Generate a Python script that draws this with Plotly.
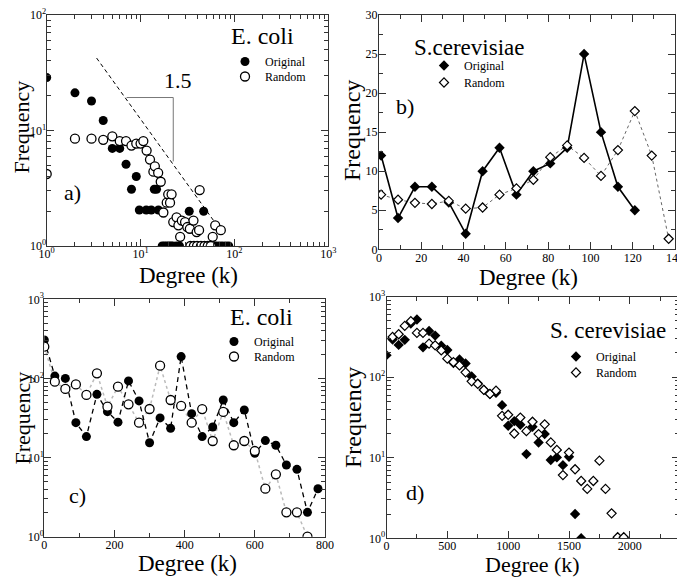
import plotly.graph_objects as go

# ---------------- data ----------------
# Panel a) E. coli, log-log degree distribution
a_orig_k = [1, 2, 3, 4, 5, 6, 7, 9, 8, 14, 14.8, 9.7, 11.5, 13, 15.5, 33, 47,
            17, 18, 19, 20, 21, 22, 24, 26, 35, 37, 39, 41, 44, 47, 50, 53, 57, 61, 65, 70, 75, 81, 87]
a_orig_f = [28.7, 21.2, 18.0, 12.2, 7.0, 7.0, 5.1, 4.0, 3.1, 3.1, 3.1, 2.05, 2.05, 2.05, 2.05, 2.0, 2.0,
            1, 1, 1, 1, 1, 1, 1, 1, 1, 1, 1, 1, 1, 1, 1, 1, 1, 1, 1, 1, 1, 1, 1]
a_rand_k = [1, 2, 3, 4, 5, 6, 7, 8, 9, 10, 10.7, 11.6, 12.6, 13.7, 14.2, 15.4, 16.4, 17.5, 19, 19.7,
            20.6, 21.4, 22.3, 24.2, 25.3, 26.4, 27.5, 29.8, 31.5, 33.5, 36.6, 39.6, 42, 42.6, 58.7, 62.4, 71.6,
            34, 37, 40, 44, 48, 52, 56]
a_rand_f = [4.2, 8.5, 8.5, 8.3, 8.9, 8.1, 8.1, 7.4, 7.7, 7.7, 8.1, 6.7, 5.6, 4.4, 4.9, 4.3, 3.6, 1.95, 2.37, 2.8,
            2.37, 2.8, 1.61, 1.77, 1.51, 1.2, 1.66, 1.61, 1.46, 1.41, 1.66, 1.32, 1.37, 3.05, 1.2, 1.51, 1.37,
            1, 1, 1, 1, 1, 1, 1]
a_guide_k = [3.4, 60]          # dashed power-law guide
a_guide_f = [42.4, 1.66]
a_tri_k = [7.1, 22.3, 22.3]    # slope triangle
a_tri_f = [19.3, 19.3, 5.4]

# Panel b) S.cerevisiae, linear
b_orig_k = [1, 9, 17, 25, 33, 41, 49, 57, 65, 73, 81, 89, 97, 105, 113, 121]
b_orig_f = [12, 4, 8, 8, 6, 2, 10, 13, 7, 10, 11, 13, 25, 15, 8, 5]
b_rand_k = [1, 9, 17, 25, 33, 41, 49, 57, 65, 73, 81, 89, 97, 105, 113, 121, 129, 137]
b_rand_f = [7.0, 6.35, 5.95, 5.8, 6.2, 5.2, 5.35, 7.0, 7.8, 8.9, 11.8, 13.3, 11.7, 9.4, 12.7, 17.7, 12.0, 1.35]

# Panel c) E. coli, semi-log
c_orig_k = [0, 30, 60, 90, 120, 150, 180, 210, 240, 270, 300, 330, 360, 390, 420, 450, 480, 510,
            540, 570, 600, 630, 660, 690, 720, 750, 780]
c_orig_f = [306, 107, 100, 27.6, 18.4, 63, 38, 28, 93, 52, 15.4, 31.7, 23.4, 189, 35.9, 18.4, 24.3, 53.4,
            27.6, 39.9, 11.3, 16.4, 14.3, 8.05, 7.1, 2.03, 4.04]
c_rand_k = [0, 30, 60, 90, 120, 150, 180, 210, 240, 270, 300, 330, 360, 390, 420, 450, 480, 510,
            540, 570, 600, 630, 660, 690, 720, 750]
c_rand_f = [252, 91, 73.6, 84, 61.8, 116, 44, 78.7, 47.1, 27.6, 41.1, 145, 53.4, 44.9, 27.6, 41, 16.2, 37.7,
            14.3, 16.2, 12.1, 4.04, 6.14, 2.03, 2.03, 1.0]

# Panel d) S. cerevisiae, semi-log
d_orig_k = [0, 50, 100, 150, 200, 250, 300, 350, 400, 450, 500, 550, 600, 650, 700, 750, 800, 850, 900,
            950, 1000, 1050, 1100, 1150, 1200, 1250, 1300, 1350, 1400, 1450, 1500, 1550, 1600]
d_orig_f = [188, 294, 252, 291, 465, 522, 235, 375, 329, 246, 218, 150, 166, 148, 102, 84, 70, 62, 64,
            45, 25, 28.5, 25.7, 11.1, 24.3, 15.5, 19.7, 9.4, 10.1, 8.1, 10.3, 2.0, 1.0]
d_rand_k = [50, 100, 150, 200, 250, 300, 350, 400, 450, 500, 550, 600, 650, 700, 750, 800, 850, 900, 950,
            1000, 1050, 1100, 1150, 1200, 1250, 1300, 1350, 1400, 1450, 1500, 1550, 1600, 1650, 1700, 1750,
            1800, 1850, 1900, 1950]
d_rand_f = [316, 342, 434, 496, 355, 355, 261, 249, 215, 170, 154, 140, 115, 89, 82.5, 69.5, 62, 68, 33.2,
            34.2, 20, 31.6, 21.4, 28, 19.7, 26, 15.5, 12.5, 6.1, 11.6, 7.2, 5.15, 4.1, 5.15, 9.2,
            4.1, 2.04, 1.03, 1.03]

log_ticks3 = [1, 10, 100, 1000]
log_text3 = ["10<sup>0</sup>", "10<sup>1</sup>", "10<sup>2</sup>", "10<sup>3</sup>"]

# ---------------- figure ----------------
# the page body has an 8px margin, so the figure is drawn 8px in from the window corner
OFF = 8
W, H = 685 - OFF, 577 - OFF
SERIF = "Liberation Serif"
fig = go.Figure()

def px(xp):
    return (xp - OFF) / W

def py(yp):
    return 1 - (yp - OFF) / H

def minor_log(decades):
    vals = []
    for d in range(decades):
        vals += [m * 10 ** d for m in range(2, 10)]
    return vals

def axis(domain, anchor, typ="linear", rng=None, tickvals=None, ticktext=None, dtick=None, minor=None,
         standoff=-2):
    ax = dict(domain=domain, anchor=anchor, type=typ, range=rng, showline=True, linecolor="#333",
              linewidth=1, mirror="ticks", ticks="inside", ticklen=7, tickcolor="#333", tickwidth=1,
              showgrid=False, zeroline=False, automargin=False, ticklabeloverflow="allow",
              ticklabelstandoff=standoff,
              tickfont=dict(family=SERIF, size=12, color="black"))
    if tickvals is not None:
        ax.update(tickmode="array", tickvals=tickvals, ticktext=ticktext)
    if dtick is not None:
        ax.update(dtick=dtick, tick0=0)
    if minor is not None:
        ax["minor"] = dict(ticks="inside", ticklen=4, tickcolor="#333", showgrid=False, **minor)
    return ax

def leg(x, y):
    # x, y: page position of the legend's top-left corner
    return dict(x=px(x), y=py(y), xanchor="left", yanchor="top", bgcolor="rgba(0,0,0,0)",
                font=dict(family=SERIF, size=12, color="black"), itemwidth=30,
                itemclick=False, itemdoubleclick=False)

FILL_C = dict(symbol="circle", size=9, color="black")
OPEN_C = dict(symbol="circle", size=9, color="white", line=dict(color="black", width=1.3))
FILL_D = dict(symbol="diamond", size=8, color="black")
OPEN_D = dict(symbol="diamond", size=7, color="white", line=dict(color="black", width=1.2))

# panel a
fig.add_trace(go.Scatter(x=a_guide_k, y=a_guide_f, mode="lines", xaxis="x", yaxis="y", showlegend=False,
                         line=dict(color="black", width=1, dash="4px,3px")))
fig.add_trace(go.Scatter(x=a_tri_k, y=a_tri_f, mode="lines", xaxis="x", yaxis="y", showlegend=False,
                         line=dict(color="#777", width=1)))
fig.add_trace(go.Scatter(x=a_orig_k, y=a_orig_f, mode="markers", name="Original", xaxis="x", yaxis="y",
                         legend="legend", marker=FILL_C))
fig.add_trace(go.Scatter(x=a_rand_k, y=a_rand_f, mode="markers", name="Random", xaxis="x", yaxis="y",
                         legend="legend2", marker=OPEN_C))

# panel b
fig.add_trace(go.Scatter(x=b_rand_k, y=b_rand_f, mode="lines", xaxis="x2", yaxis="y2", showlegend=False,
                         line=dict(color="#666", width=1, dash="dot")))
fig.add_trace(go.Scatter(x=b_orig_k, y=b_orig_f, mode="lines", xaxis="x2", yaxis="y2", showlegend=False,
                         line=dict(color="black", width=1.6)))
fig.add_trace(go.Scatter(x=b_orig_k, y=b_orig_f, mode="markers", name="Original", xaxis="x2", yaxis="y2",
                         legend="legend3", marker=FILL_D))
fig.add_trace(go.Scatter(x=b_rand_k, y=b_rand_f, mode="markers", name="Random", xaxis="x2", yaxis="y2",
                         legend="legend4", marker=OPEN_D))

# panel c
fig.add_trace(go.Scatter(x=c_rand_k, y=c_rand_f, mode="lines", xaxis="x3", yaxis="y3", showlegend=False,
                         line=dict(color="#bbb", width=1.5, dash="dot")))
fig.add_trace(go.Scatter(x=c_orig_k, y=c_orig_f, mode="lines", xaxis="x3", yaxis="y3", showlegend=False,
                         line=dict(color="black", width=1.3, dash="5px,4px")))
fig.add_trace(go.Scatter(x=c_orig_k, y=c_orig_f, mode="markers", name="Original", xaxis="x3", yaxis="y3",
                         legend="legend5", marker=FILL_C))
fig.add_trace(go.Scatter(x=c_rand_k, y=c_rand_f, mode="markers", name="Random", xaxis="x3", yaxis="y3",
                         legend="legend6", marker=OPEN_C))

# panel d
fig.add_trace(go.Scatter(x=d_orig_k, y=d_orig_f, mode="markers", name="Original", xaxis="x4", yaxis="y4",
                         legend="legend7", marker=FILL_D))
fig.add_trace(go.Scatter(x=d_rand_k, y=d_rand_f, mode="markers", name="Random", xaxis="x4", yaxis="y4",
                         legend="legend8", marker=OPEN_D))

TOP = 15  # top frame edge of the upper panels (page px)
layout = dict(
    width=W, height=H, margin=dict(l=0, r=0, t=0, b=0),
    paper_bgcolor="white", plot_bgcolor="white", font=dict(family=SERIF, color="black"),
    xaxis=axis([px(46.7), px(328.3)], "y", "log", [0, 3], log_ticks3, log_text3,
               minor=dict(tickmode="array", tickvals=minor_log(3)), standoff=-3),
    yaxis=axis([py(246), py(TOP)], "x", "log", [0, 2], log_ticks3[:3], log_text3[:3],
               minor=dict(tickmode="array", tickvals=minor_log(2)), standoff=-3),
    xaxis2=axis([px(379), px(675)], "y2", "linear", [0, 140], dtick=20, minor=dict(dtick=10), standoff=-3),
    yaxis2=axis([py(249.3), py(TOP)], "x2", "linear", [0, 30], dtick=5, minor=dict(dtick=2.5)),
    xaxis3=axis([px(44.3), px(325)], "y3", "linear", [0, 800], dtick=200, minor=dict(dtick=100), standoff=-3),
    yaxis3=axis([py(536.7), py(299.3)], "x3", "log", [0, 3], log_ticks3, log_text3,
                minor=dict(tickmode="array", tickvals=minor_log(3)), standoff=-3),
    xaxis4=axis([px(386.5), px(678.5)], "y4", "linear", [0, 2400], dtick=500, minor=dict(dtick=250),
                standoff=-4),
    yaxis4=axis([py(538.3), py(296.7)], "x4", "log", [0, 3], log_ticks3, log_text3,
                minor=dict(tickmode="array", tickvals=minor_log(3))),
    legend=leg(225, 47), legend2=leg(225, 62),
    legend3=leg(424, 51), legend4=leg(424, 68),
    legend5=leg(214, 327), legend6=leg(214, 342),
    legend7=leg(556, 342), legend8=leg(556, 358),
)
fig.update_layout(**layout)

def note(text, x, y, size, angle=0):
    fig.add_annotation(text=text, x=px(x), y=py(y), xref="paper", yref="paper", showarrow=False,
                       xanchor="center", yanchor="middle", textangle=angle,
                       font=dict(family=SERIF, size=size, color="black"))

# axis titles
note("Degree (k)", 188, 276, 23)
note("Degree (k)", 528, 277, 23)
note("Degree (k)", 187, 563, 23)
note("Degree (k)", 532, 564, 22)
note("Frequency", 21.5, 127, 22, -90)
note("Frequency", 352, 131, 24, -90)
note("Frequency", 21.5, 418, 22, -90)
note("Frequency", 353, 418, 24, -90)

# panel titles, labels, slope
note("E. coli", 263, 36, 24)
note("S.cerevisiae", 469, 47, 23)
note("E. coli", 261, 317, 24)
note("S. cerevisiae", 608, 330, 23)
note("a)", 72, 192, 22)
note("b)", 405, 107, 22)
note("c)", 77, 495, 22)
note("d)", 415, 492, 22)
note("1.5", 178, 81, 22)

fig.write_html("out.html")
